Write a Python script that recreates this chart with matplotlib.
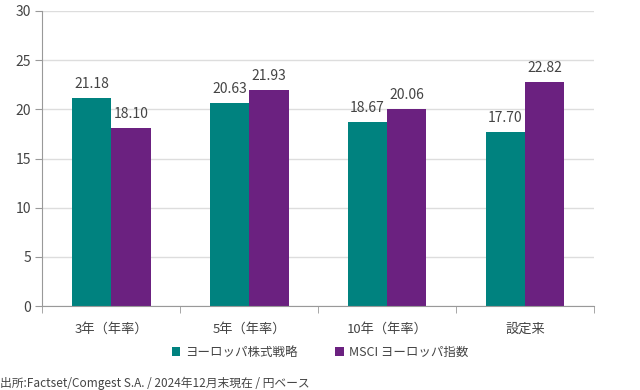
import numpy as np
import matplotlib
matplotlib.use('Agg')
import matplotlib.pyplot as plt

plt.rcParams['font.family'] = ['Noto Sans CJK JP', 'DejaVu Sans']

categories = ['3年（年率）', '5年（年率）', '10年（年率）', '設定来']
strategy = [21.18, 20.63, 18.67, 17.70]
msci = [18.10, 21.93, 20.06, 22.82]
series_names = ['ヨーロッパ株式戦略', 'MSCI ヨーロッパ指数']
colors = ['#00827F', '#6B2180']
text_color = '#444444'
axis_color = '#999999'

fig = plt.figure(figsize=(6.4, 3.9), dpi=100)
ax = fig.add_axes([0.066, 0.215, 0.862, 0.757])

x = np.arange(len(categories))
w = 0.286
b1 = ax.bar(x - w / 2, strategy, w, color=colors[0], label=series_names[0])
b2 = ax.bar(x + w / 2, msci, w, color=colors[1], label=series_names[1])

for bars, vals in [(b1, strategy), (b2, msci)]:
    for rect, v in zip(bars, vals):
        ax.annotate('{:.2f}'.format(v), (rect.get_x() + rect.get_width() / 2, v),
                    xytext=(0, 5), textcoords='offset points',
                    ha='center', va='bottom', fontsize=10, color=text_color)

ax.set_xlim(-0.5, len(categories) - 0.5)
ax.set_ylim(0, 30)
ax.set_yticks(range(0, 31, 5))
ax.yaxis.grid(True, color='#dddddd', linewidth=1)
ax.set_axisbelow(True)

ax.set_xticks(x)
ax.set_xticklabels(categories)
ax.set_xticks(np.arange(-0.5, len(categories)), minor=True)
ax.tick_params(axis='x', which='major', length=0, pad=12, labelsize=9.5, labelcolor=text_color)
ax.tick_params(axis='x', which='minor', length=5, color=axis_color)
ax.tick_params(axis='y', length=5, color=axis_color, labelsize=10, labelcolor=text_color, pad=3)

for s in ['top', 'right']:
    ax.spines[s].set_visible(False)
for s in ['left', 'bottom']:
    ax.spines[s].set_color(axis_color)

leg = fig.legend(loc='center', bbox_to_anchor=(0.5, 0.097), ncol=2, frameon=False,
                 fontsize=9, handlelength=0.7, handleheight=0.7, handletextpad=0.4,
                 columnspacing=3.0)
for t in leg.get_texts():
    t.set_color(text_color)

fig.text(0.0, 0.018, '出所:Factset/Comgest S.A. / 2024年12月末現在 / 円ベース',
         fontsize=8.5, color=text_color, ha='left', va='center')

fig.savefig('out.png', dpi=100)
